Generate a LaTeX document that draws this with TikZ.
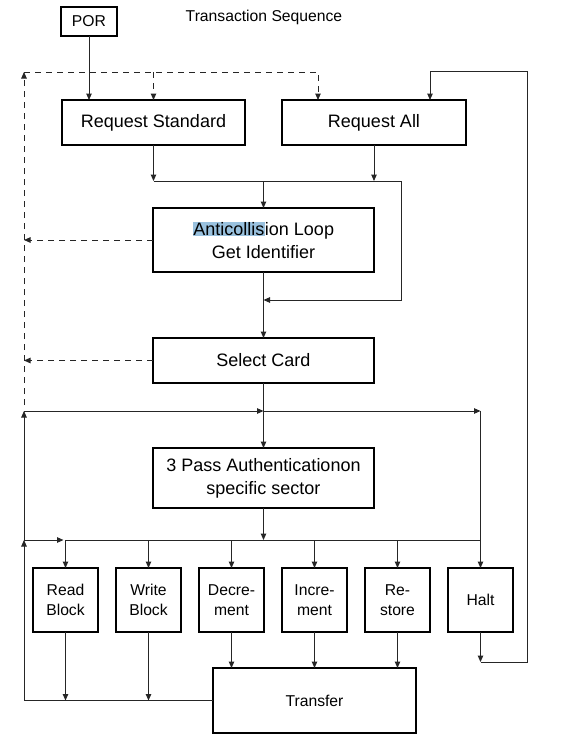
\documentclass[tikz,border=0pt]{standalone}
\usepackage{fontspec}
\setmainfont{Liberation Sans}
\usetikzlibrary{arrows.meta, positioning}
\definecolor{selblue}{RGB}{153,193,222}

\begin{document}
\begin{tikzpicture}[x=1pt, y=-1pt, line width=1pt, draw=black!85,
    box/.style={draw=black, line width=2.6pt, outer sep=0pt, inner sep=0pt, align=center,
        font=\fontsize{18}{23}\selectfont},
    cmd/.style={box, minimum width=65pt, minimum height=64pt, font=\fontsize{15.7}{19.5}\selectfont},
    arr/.style={-{Triangle[length=6.5pt,width=5.5pt]}},
    dsh/.style={arr, dash pattern=on 6pt off 5pt}]
    \useasboundingbox (0,0) rectangle (580,740);

    % Title and top boxes
    \node[box, minimum width=56pt, minimum height=29pt, font=\fontsize{15.7}{19}\selectfont] (por) at (89,21.5) {POR};
    \node[font=\fontsize{15.7}{19}\selectfont] (title) at (264,17) {Transaction Sequence};
    \node[box, minimum width=183pt, minimum height=45pt] (reqstd) at (153.5,122.5) {Request Standard};
    \node[box, minimum width=184pt, minimum height=45pt] (reqall) at (374,122.5) {Request All};
    \node[box, minimum width=221pt, minimum height=64pt] (anti) at (263.5,240)
        {{\setlength{\fboxsep}{0.5pt}\colorbox{selblue}{Anticollis}}ion Loop\\Get Identifier};
    \node[box, minimum width=221pt, minimum height=45pt] (select) at (263.5,360.5) {Select Card};
    \node[box, minimum width=221pt, minimum height=60pt] (auth) at (263.5,478) {3 Pass Authenticationon\\specific sector};

    % Commands
    \node[cmd] (read) at (65.5,600) {Read\\Block};
    \node[cmd, right=18pt of read] (write) {Write\\Block};
    \node[cmd, right=18pt of write] (decr) {Decre-\\ment};
    \node[cmd, right=18pt of decr] (incr) {Incre-\\ment};
    \node[cmd, right=18pt of incr] (rest) {Re-\\store};
    \node[cmd, right=18pt of rest] (halt) {Halt};
    \node[box, minimum width=203pt, minimum height=65pt, font=\fontsize{15.7}{19}\selectfont] (transfer) at (314.5,700.5) {Transfer};

    \coordinate (dtop) at (24,72);
    \coordinate (dbot) at (24,405);
    \coordinate (lup) at (24,411);
    \coordinate (lmid) at (24,540);
    \coordinate (rtop) at (527,71);
    \coordinate (merge) at (263.5,181);
    \coordinate (side) at (401,181);
    \coordinate (skip) at (263.5,300);

    % Dashed returns
    \draw[dsh] (dbot) -- (dtop);
    \draw[dsh] (dtop) -| ([xshift=36pt]reqall.north west);
    \draw[dsh] (reqstd.north |- dtop) -- (reqstd.north);
    \draw[dsh] (anti.west) -- (anti.west -| dtop);
    \draw[dsh] (select.west) -- (select.west -| dtop);

    % Main flow
    \draw[arr] (por) -- (por |- reqstd.north);
    \draw[arr] (reqstd.south) -- (reqstd.south |- merge);
    \draw[arr] (reqall.south) -- (reqall.south |- merge);
    \draw (reqstd.south |- merge) -- (side);
    \draw[arr] (merge) -- (anti.north);
    \draw[arr] (side) |- (skip);
    \draw[arr] (anti.south) -- (select.north);
    \draw[arr] (select.south) -- (auth.north);
    \draw[arr] (auth.south) -- (auth.south |- lmid);

    % Loop back from transfer
    \draw[arr] (transfer.west) -| (lmid);
    \draw[arr] (lmid) -- (lup);
    \draw[arr] (lup) -- (lup -| select.south);
    \draw[arr] (lup -| select.south) -- (lup -| halt.north);
    \draw[arr] (lup -| halt.north) -- (halt.north);
    \draw[arr] (lmid) -- ([xshift=-2pt]lmid -| read.north);
    \draw (lmid -| read.north) -- (lmid -| halt.north);
    \foreach \b in {read, write, decr, incr, rest}
        \draw[arr] (lmid -| \b.north) -- (\b.north);
    \foreach \b in {read, write}
        \draw[arr] (\b.south) -- (\b.south |- transfer.west);
    \foreach \b in {decr, incr, rest}
        \draw[arr] (\b.south) -- (\b.south |- transfer.north);

    % Halt back to request all
    \draw[arr] (halt.south) -- ++(0,30) coordinate (hbot);
    \draw[arr] (hbot) -| (rtop) -| ([xshift=148pt]reqall.north west);
\end{tikzpicture}
\end{document}
